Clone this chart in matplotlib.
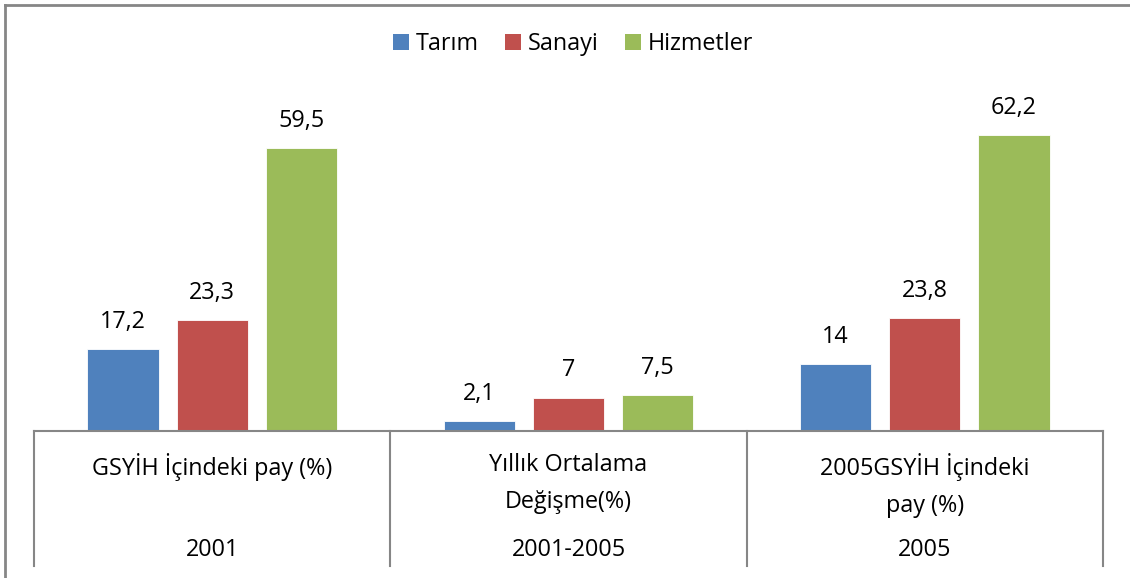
#!/usr/bin/env python3

import matplotlib
matplotlib.use('Agg')

import numpy                  as np
import matplotlib.pyplot      as plt
from matplotlib.lines   import Line2D
from matplotlib.patches import Patch

# ===== Data
series      = ['Tarım', 'Sanayi', 'Hizmetler']
tarim       = [17.2, 2.1, 14.0]
sanayi      = [23.3, 7.0, 23.8]
hizmetler   = [59.5, 7.5, 62.2]
labels_1    = ['GSYİH İçindeki pay (%)', 'Yıllık Ortalama\nDeğişme(%)', '2005GSYİH İçindeki\npay (%)']
labels_2    = ['2001', '2001-2005', '2005']
vlabels     = [['17,2', '2,1', '14'], ['23,3', '7', '23,8'], ['59,5', '7,5', '62,2']]

colors      = ['#4F81BD', '#C0504D', '#9BBB59']
gridc       = '#868686'

plt.rcParams['font.family'] = ['Open Sans', 'DejaVu Sans']
fs = 16.8

W,H   = 1130, 578
fig   = plt.figure(figsize=(W/100., H/100.), dpi=100)

# axes in pixels: left 34, right 1103, baseline 431, top 98
x0,x1,yb,yt = 34, 1103, 431, 98
ax = fig.add_axes([x0/W, 1-yb/H, (x1-x0)/W, (yb-yt)/H])

def py2ax(py):
   return (yb-py)/(yb-yt)

# ===== Bars
x     = np.arange(len(labels_2))
vals  = [tarim, sanayi, hizmetler]
for k in range(3):
   bars = ax.bar(x+(k-1)*0.25, vals[k], 0.2, color=colors[k], label=series[k],
                 edgecolor='white', linewidth=0.6)
   for b,t in zip(bars, vlabels[k]):
      ax.annotate(t, (b.get_x()+b.get_width()/2, b.get_height()),
                  xytext=(0,11), textcoords='offset points',
                  ha='center', va='bottom', fontsize=fs, color='black')

ax.set_xlim(-0.5, 2.5)
ax.set_ylim(0, 70)
ax.set_xticks([])
ax.set_yticks([])
for s in ['top','left','right']:
   ax.spines[s].set_visible(False)
ax.spines['bottom'].set_color(gridc)
ax.spines['bottom'].set_linewidth(1.5)

# ===== Multi-level category axis
tr = ax.get_xaxis_transform()
for xv in [-0.5, 0.5, 1.5, 2.5]:
   ax.plot([xv,xv], [0, py2ax(566)], color=gridc, lw=1.5, transform=tr, clip_on=False)
for i in range(len(labels_2)):
   ax.text(x[i], py2ax(453), labels_1[i], transform=tr, ha='center', va='top',
           fontsize=fs, linespacing=1.75)
   ax.text(x[i], py2ax(550), labels_2[i], transform=tr, ha='center', va='center',
           fontsize=fs)

# ===== Legend
handles = [Patch(facecolor=c, edgecolor='none') for c in colors]
fig.legend(handles, series, loc='center', bbox_to_anchor=(573/W, 1-44/H),
           ncol=3, frameon=False, fontsize=fs, handlelength=0.7, handleheight=0.7,
           handletextpad=0.3, columnspacing=1.1)

# ===== Outer chart border
fig.add_artist(Line2D([4.5/W, 4.5/W], [0, 1-4.5/H], color=gridc, lw=2, transform=fig.transFigure))
fig.add_artist(Line2D([4.5/W, 1], [1-4.5/H, 1-4.5/H], color=gridc, lw=2, transform=fig.transFigure))

plt.savefig('out.png', dpi=100)
plt.close()
